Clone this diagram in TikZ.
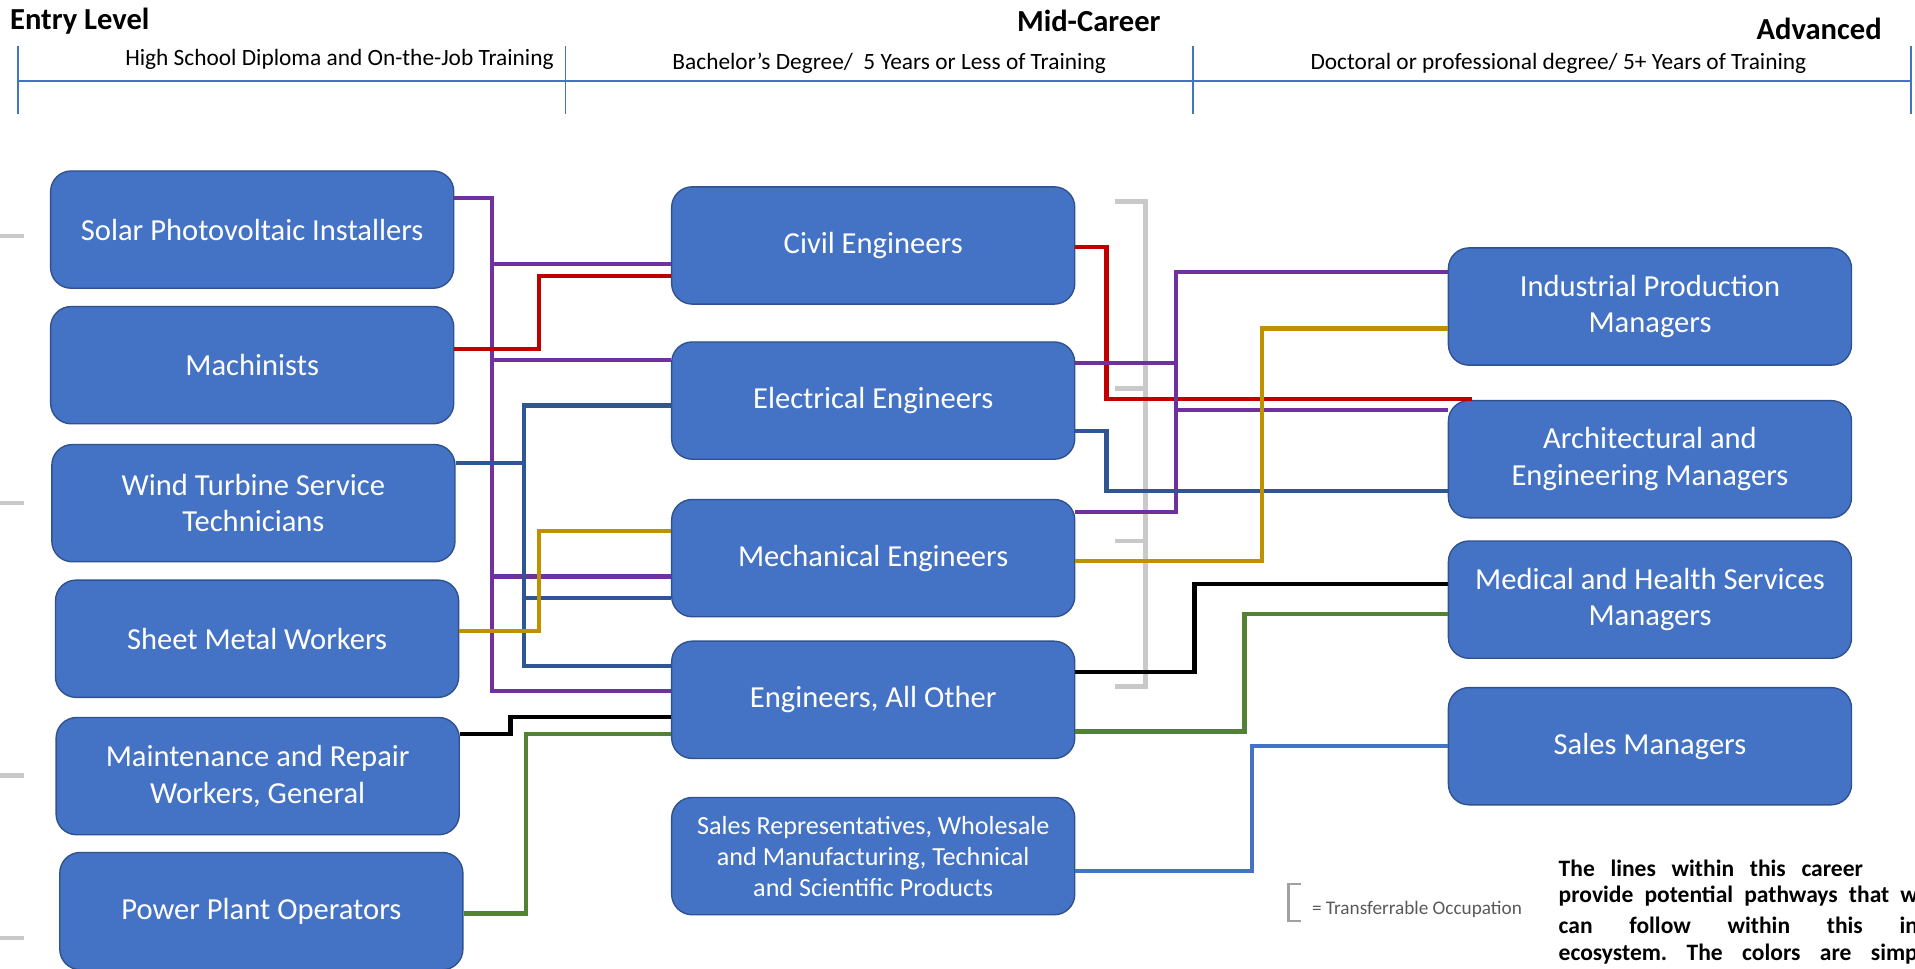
\documentclass[tikz,border=0pt]{standalone}
\usepackage{fontspec}
\setmainfont{Carlito}

\definecolor{boxblue}{HTML}{4472C4}
\definecolor{boxedge}{HTML}{2F528F}
\definecolor{ppurple}{HTML}{7030A0}
\definecolor{pred}{HTML}{C00000}
\definecolor{pdarkblue}{HTML}{2F5597}
\definecolor{pgold}{HTML}{BF9000}
\definecolor{pgreen}{HTML}{548235}
\definecolor{plightblue}{HTML}{4472C4}
\definecolor{bracketgray}{HTML}{C9C9C9}
\definecolor{legendgray}{HTML}{595959}

\begin{document}
\begin{tikzpicture}[x=0.025cm,y=-0.025cm]
\tikzstyle{jobbox} = [draw=boxedge, fill=boxblue, line width=0.8pt, rounded corners=0.42cm, minimum width=8.25cm, minimum height=2.4cm, text=white, align=center, font=\fontsize{17.8}{21.3}\selectfont]
\tikzstyle{route} = [line width=2.4pt]
\tikzstyle{transfer} = [draw=bracketgray, line width=2.5pt]
\tikzstyle{levelhead} = [inner sep=0pt, font=\fontsize{17.8}{21.3}\selectfont\bfseries]
\tikzstyle{levelsub} = [inner sep=0pt, font=\fontsize{13.6}{16}\selectfont]
\tikzstyle{note} = [inner sep=0pt, anchor=west, font=\fontsize{13.7}{16.7}\selectfont\bfseries\frenchspacing]
\useasboundingbox (0,0) rectangle (1568,793);

% header
\node[levelhead, anchor=west] (entry) at (8,17) {Entry Level};
\node[levelhead] (mid) at (891.5,17) {Mid-Career};
\node[levelhead] (adv) at (1489.5,24) {Advanced};
\node[levelsub] (hs) at (278,49) {High School Diploma and On-the-Job Training};
\node[levelsub] (bach) at (728,52) {Bachelor’s Degree/~ 5 Years or Less of Training};
\node[levelsub] (doc) at (1276,52) {Doctoral or professional degree/ 5+ Years of Training};
\draw[boxblue, line width=1.1pt] (15,66) -- (1565,66);
\draw[boxblue, line width=1.1pt] (15,38) -- (15,93) (463,38) -- (463,93) (977,38) -- (977,93) (1565,38) -- (1565,93);

% entry level
\node[jobbox] (solar) at (206.5,188) {Solar Photovoltaic Installers};
\node[jobbox] (mach) at (206.5,299) {Machinists};
\node[jobbox] (wind) at (207.5,412) {Wind Turbine Service\\Technicians};
\node[jobbox] (sheet) at (210.5,523) {Sheet Metal Workers};
\node[jobbox] (maint) at (211,635.5) {Maintenance and Repair\\Workers, General};
\node[jobbox] (power) at (214,746) {Power Plant Operators};

% mid-career
\node[jobbox] (civil) at (715,201) {Civil Engineers};
\node[jobbox] (elec) at (715,328) {Electrical Engineers};
\node[jobbox] (mech) at (715,457) {Mechanical Engineers};
\node[jobbox] (allother) at (715,573) {Engineers, All Other};
\node[jobbox, font=\fontsize{15.2}{18.1}\selectfont] (salesrep) at (715,701) {Sales Representatives, Wholesale\\and Manufacturing, Technical\\and Scientific Products};

% advanced
\node[jobbox] (indmgr) at (1351,251) {Industrial Production\\Managers};
\node[jobbox] (archmgr) at (1351,376) {Architectural and\\Engineering Managers};
\node[jobbox] (medmgr) at (1351,491) {Medical and Health Services\\Managers};
\node[jobbox] (salesmgr) at (1351,611) {Sales Managers};

% transferable brackets
\draw[transfer] (0,193) -- (20,193) (0,412) -- (20,412) (0,635) -- (20,635) (0,768) -- (20,768);
\draw[transfer] (913,165) -- (938,165) -- (938,562) -- (913,562);
\draw[transfer] (913,318) -- (938,318) (913,443) -- (938,443);

% entry -> mid
\draw[route, ppurple] (solar.east |- 0,162) -| (403,216) -- (civil.west |- 0,216);
\draw[route, ppurple] (solar.east |- 0,162) -| (403,295) -- (elec.west |- 0,295);
\draw[route, ppurple] (solar.east |- 0,162) -| (403,472) -- (mech.west |- 0,472);
\draw[route, ppurple] (solar.east |- 0,162) -| (403,566) -- (allother.west |- 0,566);
\draw[route, pred] (mach.east |- 0,286) -| (441,226) -- (civil.west |- 0,226);
\draw[route, pdarkblue] (wind.east |- 0,379) -| (429,332) -- (elec.west |- 0,332);
\draw[route, pdarkblue] (wind.east |- 0,379) -| (429,490) -- (mech.west |- 0,490);
\draw[route, pdarkblue] (wind.east |- 0,379) -| (429,545) -- (allother.west |- 0,545);
\draw[route, pgold] (sheet.east |- 0,517) -| (441,435) -- (mech.west |- 0,435);
\draw[route, black] (maint.east |- 0,601) -| (418,587) -- (allother.west |- 0,587);
\draw[route, pgreen] (power.east |- 0,748) -| (431,601) -- (allother.west |- 0,601);

% mid -> advanced
\coordinate (redend) at (1205,327);
\draw[route, pred] (civil.east |- 0,202) -| (906,327) -- (redend);
\draw[route, ppurple] (elec.east |- 0,297) -| (963,223) -- (indmgr.west |- 0,223);
\draw[route, ppurple] (elec.east |- 0,297) -| (963,336) -- (archmgr.west |- 0,336);
\draw[route, ppurple] (mech.east |- 0,419) -| (963,223) -- (indmgr.west |- 0,223);
\draw[route, ppurple] (mech.east |- 0,419) -| (963,336) -- (archmgr.west |- 0,336);
\draw[route, pdarkblue] (elec.east |- 0,353) -| (906,402) -- (archmgr.west |- 0,402);
\draw[route, pgold] (mech.east |- 0,459) -| (1033,269) -- (indmgr.west |- 0,269);
\draw[route, black] (allother.east |- 0,550) -| (978,478) -- (medmgr.west |- 0,478);
\draw[route, pgreen] (allother.east |- 0,599) -| (1019,503) -- (medmgr.west |- 0,503);
\draw[route, plightblue] (salesrep.east |- 0,713) -| (1025,611) -- (salesmgr.west |- 0,611);

% legend and note
\draw[bracketgray!80!black, line width=1.3pt] (1065,724) -- (1055,724) -- (1055,754) -- (1065,754);
\node[inner sep=0pt, anchor=west, text=legendgray, font=\fontsize{11.2}{13}\selectfont] (legend) at (1074,745) {= Transferrable Occupation};
\node[note] (note1) at (1276,711) {\makebox[6.225cm][s]{The lines within this career}};
\node[note] (note2) at (1276,734) {\makebox[7.35cm][s]{provide potential pathways that w}};
\node[note] (note3) at (1276,758) {\makebox[7.35cm][s]{can follow within this in}};
\node[note] (note4) at (1276,781) {\makebox[7.35cm][s]{ecosystem. The colors are simp}};
\end{tikzpicture}
\end{document}
